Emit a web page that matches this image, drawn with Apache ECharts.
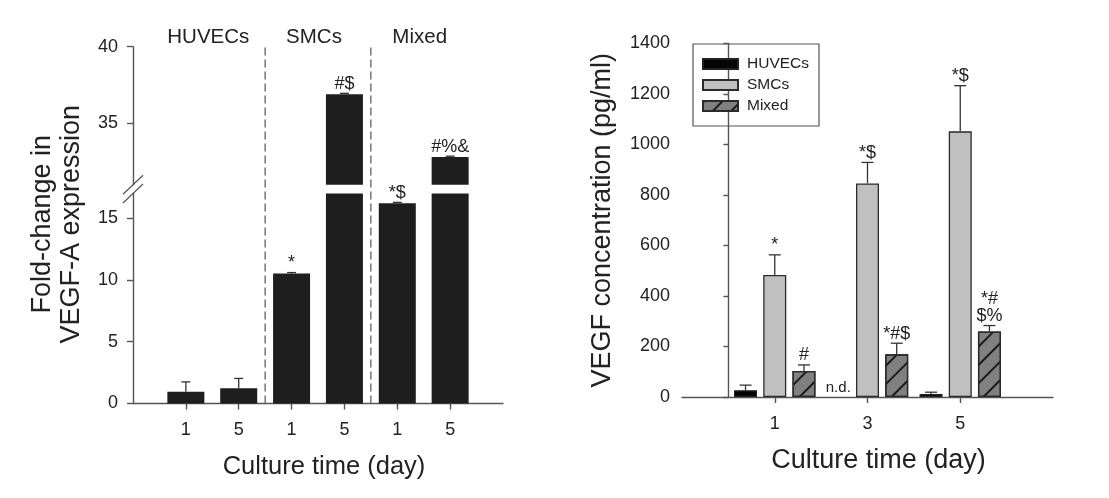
<!DOCTYPE html>
<html><head><meta charset="utf-8">
<script src="https://cdn.jsdelivr.net/npm/echarts@6/dist/echarts.min.js"></script>
<style>html,body{margin:0;padding:0;background:#fff}#c{width:1109px;height:498px}</style>
</head><body><div id="c"></div>
<script>
// ---------- Left panel (fold-change, broken y axis) ----------
const leftGroups = ['HUVECs', 'SMCs', 'Mixed'];
const leftPositions = [1, 2, 3, 4, 5, 6];
const leftTickLabels = ['1', '5', '1', '5', '1', '5'];
const leftValues = [0.95, 1.23, 10.52, 36.9, 16.22, 32.8];
const leftErrors = [0.8, 0.8, 0.08, 0.06, 0.06, 0.06];
const leftMarks = ['', '', '*', '#$', '*$', '#%&'];
const leftLowerRange = [0, 17];
const leftUpperRange = [31, 40];
const leftLowerTicks = [0, 5, 10, 15];
const leftUpperTicks = [35, 40];
const leftDividers = [2.5, 4.5];

// ---------- Right panel (VEGF concentration) ----------
const rightDays = [1, 3, 5];
const rightSeriesNames = ['HUVECs', 'SMCs', 'Mixed'];
const huvecValues = [27, null, 12];
const huvecErrors = [20, null, 7];
const smcValues = [483, 846, 1052];
const smcErrors = [80, 83, 181];
const mixedValues = [103, 169, 259];
const mixedErrors = [24, 44, 24];
const huvecMarks = ['', 'n.d.', ''];
const smcMarks = ['*', '*$', '*$'];
const mixedMarks = ['#', '*#$', '*#\n$%'];
const rightYRange = [0, 1400];
const rightYInterval = 200;
const rightXRange = [-1, 7];

const FONT = 'Liberation Sans, Arial, Helvetica, sans-serif';
const AXIS = '#555';
const TXT = '#222';

const groupCenters = leftGroups.map((g, i) => (leftPositions[2 * i] + leftPositions[2 * i + 1]) / 2);

const chart = echarts.init(document.getElementById('c'), null, { renderer: 'canvas' });

function errRender(values, errors, marks, opts) {
  return function (params, api) {
    const i = params.dataIndex;
    const x = api.value(0), v = api.value(1), e = api.value(2);
    const children = [];
    const base = api.coord([x, v]);
    const cx = base[0] + (opts.offset || 0);
    if (isNaN(v)) {
      if (opts.ndText && marks[i]) {
        const z = api.coord([x, opts.zero]);
        children.push({ type: 'text', x: z[0] + (opts.offset || 0), y: z[1] - 2,
          style: { text: marks[i], fontSize: 15, fill: TXT, fontFamily: FONT, align: 'center', verticalAlign: 'bottom' } });
      }
      return { type: 'group', children };
    }
    const top = api.coord([x, v + e]);
    const ty = top[1];
    children.push({ type: 'line', shape: { x1: cx, y1: base[1], x2: cx, y2: ty }, style: { stroke: '#333', lineWidth: 1.3 } });
    children.push({ type: 'line', shape: { x1: cx - opts.cap, y1: ty, x2: cx + opts.cap, y2: ty }, style: { stroke: '#333', lineWidth: 1.3 } });
    if (marks[i]) {
      children.push({ type: 'text', x: cx, y: ty - 1,
        style: { text: marks[i], fontSize: 18, lineHeight: 17, fill: TXT, fontFamily: FONT, align: 'center', verticalAlign: 'bottom' } });
    }
    return { type: 'group', children };
  };
}

const lowerData = leftPositions.map((x, i) => [x, leftValues[i] <= leftLowerRange[1] ? leftValues[i] : '-', leftErrors[i]]);
const upperData = leftPositions.map((x, i) => [x, leftValues[i] > leftUpperRange[0] ? leftValues[i] : '-', leftErrors[i]]);

const rightBarWidth = 23;
const rightBarGap = 0.27;
const rightStep = rightBarWidth * (1 + rightBarGap);

const hatch = { symbol: 'rect', symbolSize: 1, symbolKeepAspect: false, color: '#1a1a1a',
  dashArrayX: [1, 0], dashArrayY: [1.3, 11], rotation: -Math.PI / 4 };

const valueAxisBase = {
  axisLine: { show: true, lineStyle: { color: AXIS, width: 1.4 } },
  axisTick: { show: true, inside: false, length: 6, lineStyle: { color: AXIS, width: 1.4 } },
  axisLabel: { color: TXT, fontSize: 18, fontFamily: FONT },
  splitLine: { show: false }
};

const LX = 133, LW = 370;
const option = {
  animation: false,
  textStyle: { fontFamily: FONT },
  grid: [
    { left: LX, top: 46.7, width: LW, height: 138, outerBoundsMode: 'none', containLabel: false },
    { left: LX, top: 193.5, width: LW, height: 210, outerBoundsMode: 'none', containLabel: false },
    { left: LX, top: 45, width: LW, height: 358.5, outerBoundsMode: 'none', containLabel: false },
    { left: 682, top: 43.5, width: 371, height: 353.5, outerBoundsMode: 'none', containLabel: false }
  ],
  legend: {
    data: rightSeriesNames, orient: 'vertical', left: 693, top: 44,
    itemWidth: 35, itemHeight: 10, itemGap: 5, icon: 'rect',
    borderColor: '#555', borderWidth: 1.2, padding: [12, 10, 12, 9],
    selectedMode: false,
    textStyle: { fontSize: 15.5, lineHeight: 16, color: TXT, fontFamily: FONT, padding: [0, 0, 0, 4] }
  },
  xAxis: [
    { gridIndex: 0, type: 'value', min: 0, max: 7, show: false },
    Object.assign({}, valueAxisBase, {
      gridIndex: 1, type: 'value', min: 0, max: 7,
      axisTick: { show: true, inside: false, length: 6, customValues: leftPositions, lineStyle: { color: AXIS, width: 1.4 } },
      axisLabel: { color: TXT, fontSize: 18, fontFamily: FONT, margin: 18, customValues: leftPositions,
        formatter: v => leftTickLabels[leftPositions.indexOf(v)] },
      name: 'Culture time (day)', nameLocation: 'middle', nameGap: 50,
      nameTextStyle: { fontSize: 25.5, color: TXT, fontFamily: FONT, padding: [0, 0, 0, 12] }
    }),
    { gridIndex: 2, type: 'value', min: 0, max: 7, position: 'top',
      axisLine: { show: false }, axisTick: { show: false }, splitLine: { show: false },
      axisLabel: { show: true, color: TXT, fontSize: 20.5, fontFamily: FONT, margin: -3, padding: [0, 8, 0, 0], customValues: groupCenters,
        formatter: v => leftGroups[groupCenters.indexOf(v)] } },
    Object.assign({}, valueAxisBase, {
      gridIndex: 3, type: 'value', min: rightXRange[0], max: rightXRange[1],
      axisTick: { show: true, inside: false, length: 6, customValues: rightDays, lineStyle: { color: AXIS, width: 1.4 } },
      axisLabel: { color: TXT, fontSize: 18, fontFamily: FONT, margin: 18, customValues: rightDays, formatter: v => String(v) },
      name: 'Culture time (day)', nameLocation: 'middle', nameGap: 50,
      nameTextStyle: { fontSize: 27, color: TXT, fontFamily: FONT, padding: [0, 0, 0, 22] }
    })
  ],
  yAxis: [
    Object.assign({}, valueAxisBase, {
      gridIndex: 0, type: 'value', min: leftUpperRange[0], max: leftUpperRange[1],
      axisTick: { show: true, inside: false, length: 6, customValues: leftUpperTicks, lineStyle: { color: AXIS, width: 1.4 } },
      axisLabel: { color: TXT, fontSize: 18, fontFamily: FONT, margin: 15, customValues: leftUpperTicks }
    }),
    Object.assign({}, valueAxisBase, {
      gridIndex: 1, type: 'value', min: leftLowerRange[0], max: leftLowerRange[1],
      axisTick: { show: true, inside: false, length: 6, customValues: leftLowerTicks, lineStyle: { color: AXIS, width: 1.4 } },
      axisLabel: { color: TXT, fontSize: 18, fontFamily: FONT, margin: 15, customValues: leftLowerTicks }
    }),
    { gridIndex: 2, type: 'value', min: 0, max: 1,
      axisLine: { show: false }, axisTick: { show: false }, axisLabel: { show: false }, splitLine: { show: false },
      name: 'Fold-change in\nVEGF-A expression', nameLocation: 'middle', nameGap: 47, nameRotate: 90,
      nameTextStyle: { fontSize: 27, lineHeight: 29, color: TXT, fontFamily: FONT, align: 'center' } },
    Object.assign({}, valueAxisBase, {
      gridIndex: 3, type: 'value', min: rightYRange[0], max: rightYRange[1], interval: rightYInterval,
      axisTick: { show: true, inside: false, length: 5, lineStyle: { color: AXIS, width: 1.4 } },
      axisLabel: { color: TXT, fontSize: 18, fontFamily: FONT, margin: 12, formatter: v => String(v) },
      name: 'VEGF concentration (pg/ml)', nameLocation: 'middle', nameGap: 66, nameRotate: 90,
      nameTextStyle: { fontSize: 27, color: TXT, fontFamily: FONT }
    })
  ],
  series: [
    { type: 'bar', xAxisIndex: 1, yAxisIndex: 1, barWidth: 37, clip: true,
      data: leftPositions.map((x, i) => [x, leftValues[i]]),
      itemStyle: { color: '#1e1e1e' } },
    { type: 'bar', xAxisIndex: 0, yAxisIndex: 0, barWidth: 37, clip: true,
      data: upperData.map(d => [d[0], d[1]]),
      itemStyle: { color: '#1e1e1e' } },
    { type: 'custom', xAxisIndex: 1, yAxisIndex: 1, data: lowerData, z: 5,
      renderItem: errRender(leftValues, leftErrors, leftMarks, { cap: 4.5 }) },
    { type: 'custom', xAxisIndex: 0, yAxisIndex: 0, data: upperData, z: 5,
      renderItem: errRender(leftValues, leftErrors, leftMarks, { cap: 4.5 }) },
    { type: 'custom', xAxisIndex: 0, yAxisIndex: 0, data: [[0, leftUpperRange[0]]], clip: false, z: 6,
      renderItem: (p, api) => { const c = api.coord([api.value(0), api.value(1)]);
        return { type: 'line', shape: { x1: c[0] - 10, y1: c[1] + 9.5, x2: c[0] + 10, y2: c[1] - 9.5 }, style: { stroke: AXIS, lineWidth: 1.2 } }; } },
    { type: 'custom', xAxisIndex: 1, yAxisIndex: 1, data: [[0, leftLowerRange[1]]], clip: false, z: 6,
      renderItem: (p, api) => { const c = api.coord([api.value(0), api.value(1)]);
        return { type: 'line', shape: { x1: c[0] - 10, y1: c[1] + 9.5, x2: c[0] + 10, y2: c[1] - 9.5 }, style: { stroke: AXIS, lineWidth: 1.2 } }; } },
    { type: 'custom', xAxisIndex: 2, yAxisIndex: 2, data: leftDividers.map(x => [x, 0]), clip: false,
      renderItem: (p, api) => { const a = api.coord([api.value(0), 0]); const b = api.coord([api.value(0), 1]);
        return { type: 'line', shape: { x1: a[0], y1: a[1], x2: b[0], y2: b[1] }, style: { stroke: '#555', lineWidth: 1.2, lineDash: [8, 4] } }; } },

    { name: 'HUVECs', type: 'bar', xAxisIndex: 3, yAxisIndex: 3, barWidth: rightBarWidth, barGap: (rightBarGap * 100) + '%',
      data: rightDays.map((d, i) => [d, huvecValues[i] == null ? '-' : huvecValues[i]]),
      itemStyle: { color: '#050505', borderColor: '#222', borderWidth: 1.2 } },
    { name: 'SMCs', type: 'bar', xAxisIndex: 3, yAxisIndex: 3, barWidth: rightBarWidth, barGap: (rightBarGap * 100) + '%',
      data: rightDays.map((d, i) => [d, smcValues[i]]),
      itemStyle: { color: '#c0c0c0', borderColor: '#2a2a2a', borderWidth: 1.3 } },
    { name: 'Mixed', type: 'bar', xAxisIndex: 3, yAxisIndex: 3, barWidth: rightBarWidth, barGap: (rightBarGap * 100) + '%',
      data: rightDays.map((d, i) => [d, mixedValues[i]]),
      itemStyle: { color: '#808080', borderColor: '#2a2a2a', borderWidth: 1.3, decal: hatch } },
    { type: 'custom', xAxisIndex: 3, yAxisIndex: 3, z: 5,
      data: rightDays.map((d, i) => [d, huvecValues[i] == null ? '-' : huvecValues[i], huvecErrors[i] == null ? '-' : huvecErrors[i]]),
      renderItem: errRender(huvecValues, huvecErrors, huvecMarks, { cap: 6, offset: -rightStep, ndText: true, zero: rightYRange[0] }) },
    { type: 'custom', xAxisIndex: 3, yAxisIndex: 3, z: 5,
      data: rightDays.map((d, i) => [d, smcValues[i], smcErrors[i]]),
      renderItem: errRender(smcValues, smcErrors, smcMarks, { cap: 6, offset: 0 }) },
    { type: 'custom', xAxisIndex: 3, yAxisIndex: 3, z: 5,
      data: rightDays.map((d, i) => [d, mixedValues[i], mixedErrors[i]]),
      renderItem: errRender(mixedValues, mixedErrors, mixedMarks, { cap: 6, offset: rightStep }) }
  ]
};
chart.setOption(option);
</script></body></html>
